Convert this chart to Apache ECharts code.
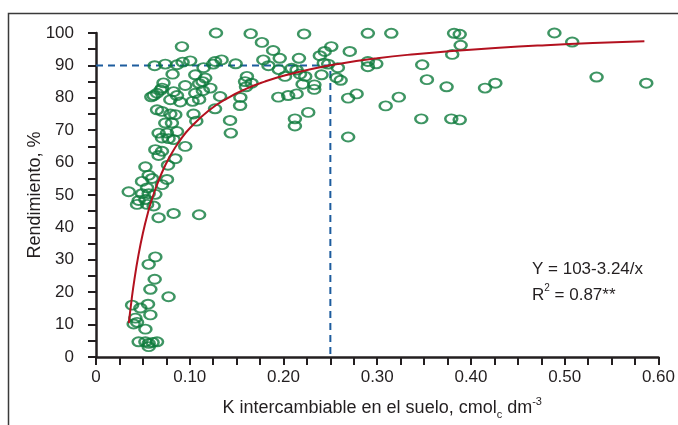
<!DOCTYPE html>
<html>
<head>
<meta charset="utf-8">
<script src="https://cdn.jsdelivr.net/npm/echarts@6/dist/echarts.min.js"></script>
<style>
  html, body { margin: 0; padding: 0; background: #fff; }
  #chart { width: 678px; height: 425px; }
</style>
</head>
<body>
<div id="chart"></div>
<script>
// Exchangeable K in soil (cmol_c dm^-3) vs relative yield (%)
const sampleK = [
  0.128, 0.165, 0.222, 0.290, 0.315, 0.382, 0.388, 0.489, 0.508, 0.389, 0.380,
  0.177, 0.189, 0.196, 0.1785, 0.184, 0.195, 0.2016, 0.2087, 0.2165, 0.214, 0.2176,
  0.2232, 0.2204, 0.233, 0.2328, 0.2406, 0.2388, 0.244, 0.251, 0.243, 0.2477, 0.258,
  0.2566, 0.261, 0.2707, 0.269, 0.278, 0.269, 0.2264, 0.2122, 0.2122, 0.214, 0.205, 0.1945,
  0.127, 0.134, 0.149, 0.125, 0.161, 0.159, 0.166, 0.154, 0.160, 0.1537,
  0.122, 0.1165, 0.1324, 0.127, 0.143, 0.1438,
  0.290, 0.299, 0.290, 0.348, 0.353, 0.323, 0.309, 0.347, 0.374, 0.415, 0.426, 0.534, 0.587, 0.379, 0.388,
  0.0917, 0.0626, 0.0739, 0.0864, 0.0924, 0.1005, 0.1147, 0.0817, 0.1059, 0.1136, 0.0952,
  0.0704, 0.0651, 0.0615, 0.0828, 0.0864, 0.1059, 0.0899, 0.0793, 0.103, 0.0651, 0.0704,
  0.0793, 0.0846, 0.104, 0.107, 0.0739, 0.081, 0.0757, 0.0864, 0.0668,
  0.072, 0.110, 0.114, 0.110, 0.059, 0.069,
  0.0704, 0.0774, 0.0828, 0.0952, 0.0633, 0.0704, 0.0668, 0.0846, 0.0527, 0.0768,
  0.0562, 0.0598, 0.0491, 0.0757, 0.0704, 0.0545, 0.0349, 0.0491, 0.0562, 0.0633,
  0.0455, 0.0527, 0.0438, 0.0545, 0.0615, 0.0668, 0.0828, 0.110,
  0.0633, 0.0562, 0.0626, 0.058, 0.0774, 0.0385, 0.0555, 0.0473, 0.058, 0.042,
  0.0438, 0.0402, 0.0527, 0.0455, 0.0527, 0.0562, 0.0562, 0.0651, 0.0604
];
const sampleYield = [
  100, 99.8, 99.7, 99.9, 99.9, 99.9, 99.6, 100, 97.2, 96.2, 93.4,
  97.1, 94.6, 92.2, 91.7, 89.9, 88.7, 86.6, 89.1, 92.2, 88.6, 87.3,
  86.6, 84.2, 84.0, 82.6, 87.1, 93.0, 94.3, 95.8, 90.7, 90.4, 89.3,
  86.2, 85.4, 94.3, 79.9, 81.2, 67.9, 75.5, 73.5, 71.3, 81.2, 80.7, 80.2,
  91.2, 91.7, 90.5, 90.4, 86.6, 85.0, 84.5, 80.1, 83.4, 77.6,
  83.0, 86.1, 80.4, 76.6, 73.0, 69.1,
  91.2, 90.5, 89.6, 90.2, 85.6, 80.2, 77.5, 73.5, 83.4, 83.0, 84.5, 86.4, 84.5, 73.5, 73.2,
  95.8, 89.9, 90.4, 90.2, 91.0, 91.4, 89.3, 87.3, 87.1, 85.0, 83.8,
  83.0, 81.4, 80.7, 81.9, 80.7, 81.4, 78.7, 79.4, 78.9, 76.3, 75.8,
  75.0, 74.8, 75.0, 72.8, 72.2, 72.2, 69.1, 69.6, 69.1,
  84.6, 84.4, 82.2, 79.5, 80.3, 82.4,
  67.6, 67.4, 67.1, 65.0, 64.0, 63.5, 62.2, 61.2, 58.7, 59.2,
  56.1, 55.1, 54.2, 54.8, 53.2, 52.2, 51.0, 50.4, 50.4, 50.2,
  48.3, 48.6, 47.1, 47.1, 46.6, 43.0, 44.3, 43.9,
  30.9, 28.6, 24.0, 20.9, 18.6, 16.0, 16.3, 15.1, 13.0, 12.0,
  10.7, 10.2, 8.6, 4.7, 4.7, 4.2, 3.2, 4.7, 4.5
];

// Fitted model Y = a - b/x, as printed on the chart
const fitA = 103;
const fitB = 3.24;
const fitX = [0.035, 0.038, 0.041, 0.045, 0.05, 0.055, 0.06, 0.07, 0.08, 0.09, 0.1,
  0.12, 0.14, 0.16, 0.18, 0.2, 0.23, 0.26, 0.3, 0.34, 0.38, 0.43, 0.48, 0.53, 0.585];

// Critical level: 90 % yield reached at 0.25 cmol_c dm^-3
const criticalK = 0.25;
const criticalYield = 90;

const xTickLabels = ['0', '0.10', '0.20', '0.30', '0.40', '0.50', '0.60'];
const yTickLabels = ['0', '10', '20', '30', '40', '50', '60', '70', '80', '90', '100'];

const FONT = "'Liberation Sans', Arial, Helvetica, sans-serif";
const INK = '#231f20';

const points = sampleK.map((k, i) => [k, sampleYield[i]]);
const curve = fitX.map(x => [x, fitA - fitB / x]);

const chart = echarts.init(document.getElementById('chart'), null, { renderer: 'canvas' });
chart.setOption({
  animation: false,
  backgroundColor: '#ffffff',
  grid: { left: 96, right: 18, top: 33, bottom: 67, containLabel: false },
  xAxis: {
    type: 'value',
    min: 0, max: 0.6, interval: 0.025,
    name: '{n|K intercambiable en el suelo, cmol}{sub|c}{n| dm}{sup|-3}',
    nameLocation: 'middle',
    nameGap: 39,
    nameMoveOverlap: false,
    nameTextStyle: {
      padding: [0, 0, 0, 10],
      rich: {
        n: { fontFamily: FONT, fontSize: 18, color: INK, lineHeight: 24, verticalAlign: 'middle' },
        sub: { fontFamily: FONT, fontSize: 11, color: INK, lineHeight: 11, verticalAlign: 'bottom' },
        sup: { fontFamily: FONT, fontSize: 11, color: INK, lineHeight: 11, verticalAlign: 'top' }
      }
    },
    axisLine: { show: true, onZero: false, lineStyle: { color: INK, width: 2.5 } },
    axisTick: { show: true, inside: false, length: 8, lineStyle: { color: INK, width: 2 } },
    axisLabel: {
      margin: 12,
      fontFamily: FONT, fontSize: 17, color: INK,
      formatter: v => {
        const k = Math.round(v * 40);
        return k % 4 === 0 ? xTickLabels[k / 4] : '';
      }
    },
    splitLine: { show: false }
  },
  yAxis: {
    type: 'value',
    min: 0, max: 100, interval: 5,
    name: 'Rendimiento, %',
    nameLocation: 'middle',
    nameGap: 52,
    nameMoveOverlap: false,
    nameTextStyle: { fontFamily: FONT, fontSize: 18, color: INK },
    axisLine: { show: true, onZero: false, lineStyle: { color: INK, width: 2.5 } },
    axisTick: { show: true, inside: false, length: 8, lineStyle: { color: INK, width: 2 } },
    axisLabel: {
      margin: 22,
      fontFamily: FONT, fontSize: 17, color: INK,
      formatter: v => {
        const k = Math.round(v / 5);
        return k % 2 === 0 ? yTickLabels[k / 2] : '';
      }
    },
    splitLine: { show: false }
  },
  series: [
    {
      name: 'critical',
      type: 'line',
      data: [[0, criticalYield], [criticalK, criticalYield], [criticalK, 0]],
      symbol: 'none',
      lineStyle: { color: '#1d5c9e', width: 2, type: [7, 5] },
      z: 1,
      silent: true
    },
    {
      name: 'samples',
      type: 'scatter',
      data: points,
      symbol: 'path://M0,4.5A6.5,4.5 0 1,0 13,4.5A6.5,4.5 0 1,0 0,4.5Z',
      symbolSize: [12, 9],
      itemStyle: { color: 'rgba(255,255,255,0)', borderColor: '#0e7a3c', borderWidth: 2.2 },
      z: 2
    },
    {
      name: 'fit',
      type: 'line',
      data: curve,
      smooth: true,
      symbol: 'none',
      lineStyle: { color: '#b3111f', width: 2 },
      z: 3,
      silent: true
    }
  ],
  graphic: [
    {
      type: 'rect',
      shape: { x: 8.5, y: 13.5, width: 720, height: 500 },
      style: { fill: 'none', stroke: '#3a3a3a', lineWidth: 1.5 },
      silent: true
    },
    {
      type: 'text',
      left: 532, top: 261,
      style: { text: 'Y = 103-3.24/x', font: "17px 'Liberation Sans', Arial, sans-serif", fill: INK }
    },
    {
      type: 'text',
      left: 532, top: 283,
      style: {
        text: '{a|R}{s|2}{a| = 0.87**}',
        rich: {
          a: { fontFamily: FONT, fontSize: 17, fill: INK, lineHeight: 21, verticalAlign: 'bottom' },
          s: { fontFamily: FONT, fontSize: 10, fill: INK, lineHeight: 12, verticalAlign: 'top' }
        }
      }
    }
  ]
});
</script>
</body>
</html>
